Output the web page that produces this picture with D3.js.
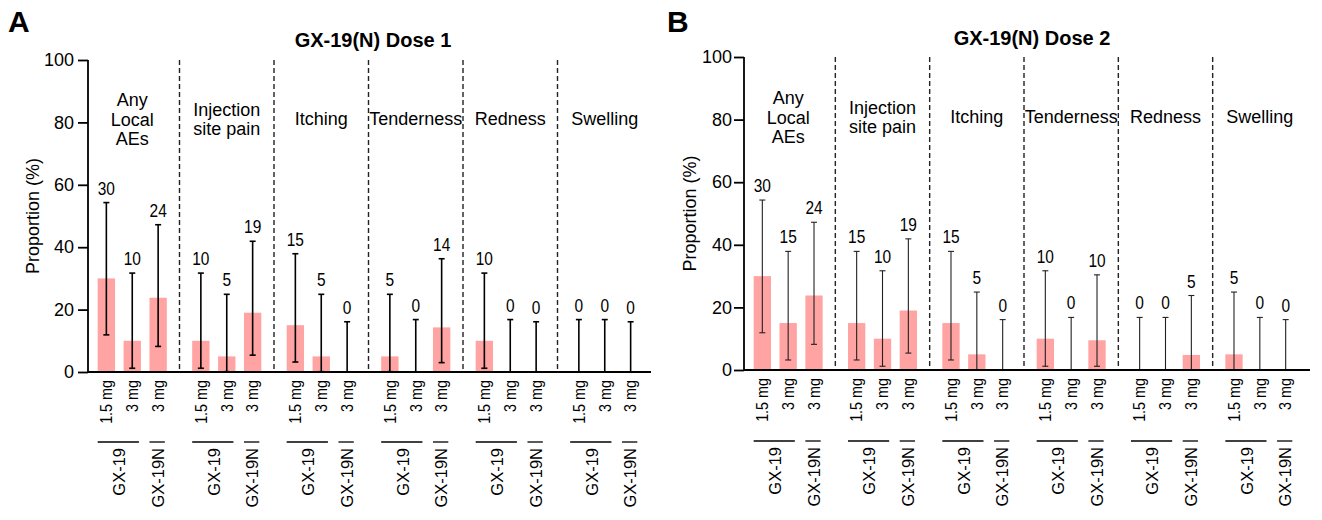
<!DOCTYPE html>
<html>
<head>
<meta charset="utf-8">
<script src="https://cdn.jsdelivr.net/npm/d3@7"></script>
<style>
  body { margin: 0; background: #fff; }
  text { font-family: "Liberation Sans", Arial, sans-serif; fill: #000; }
</style>
</head>
<body>
<svg id="canvas"></svg>
<script>
let width = 1322;
let height = 520;

// chart data
let categories = ['Any Local AEs', 'Injection site pain', 'Itching', 'Tenderness', 'Redness', 'Swelling'];
let categoryLines = [['Any', 'Local', 'AEs'], ['Injection', 'site pain'], ['Itching'], ['Tenderness'], ['Redness'], ['Swelling']];
let doseLabels = ['1.5 mg', '3 mg', '3 mg'];
let vaccineLabels = ['GX-19', 'GX-19N'];
let yTicks = [0, 20, 40, 60, 80, 100];

let dose1Values = [[30, 10, 23.8], [10, 5, 19], [15, 5, 0], [5, 0, 14.3], [10, 0, 0], [0, 0, 0]];
let dose1Low = [[11.9, 1.2, 8.2], [1.2, 0.1, 5.4], [3.2, 0.1, 0], [0.1, 0, 3.0], [1.2, 0, 0], [0, 0, 0]];
let dose1High = [[54.3, 31.7, 47.2], [31.7, 24.9, 41.9], [37.9, 24.9, 16.1], [24.9, 16.8, 36.3], [31.7, 16.8, 16.1], [16.8, 16.8, 16.1]];
let dose1Labels = [['30', '10', '24'], ['10', '5', '19'], ['15', '5', '0'], ['5', '0', '14'], ['10', '0', '0'], ['0', '0', '0']];

let dose2Values = [[30, 15, 23.8], [15, 10, 19], [15, 5, 0], [10, 0, 9.5], [0, 0, 4.8], [5, 0, 0]];
let dose2Low = [[11.9, 3.2, 8.2], [3.2, 1.2, 5.4], [3.2, 0.1, 0], [1.2, 0, 1.2], [0, 0, 0.1], [0.1, 0, 0]];
let dose2High = [[54.3, 37.9, 47.2], [37.9, 31.7, 41.9], [37.9, 24.9, 16.1], [31.7, 16.8, 30.4], [16.8, 16.8, 23.8], [24.9, 16.8, 16.1]];
let dose2Labels = [['30', '15', '24'], ['15', '10', '19'], ['15', '5', '0'], ['10', '0', '10'], ['0', '0', '5'], ['5', '0', '0']];

let svg = d3.select('#canvas')
    .attr('width', width)
    .attr('height', height);

/*one panel = one dose; layout numbers are per panel*/
let drawPanel = (p) => {
    let g = svg.append('g');

    let yScale = d3.scaleLinear().domain([0, 100]).range([p.yBot, p.yTop]);
    let xOuter = d3.scaleBand().domain(categories).range([p.x0, p.x1]).padding(0);
    let xInner = d3.scaleBand().domain([0, 1, 2]).range([0, xOuter.bandwidth()])
        .paddingInner(0.33).paddingOuter(0.49);
    let bw = xInner.bandwidth();
    let cx = (c, i) => xOuter(c) + xInner(i) + bw / 2;

    // flatten to one record per bar
    let bars = [];
    categories.forEach((c, ci) => {
        for (let i = 0; i < 3; i++) {
            bars.push({c: c, i: i, v: p.values[ci][i], lo: p.low[ci][i], hi: p.high[ci][i], lab: p.labels[ci][i]});
        }
    });

    // panel letter + title
    g.append('text').attr('x', p.letterX).attr('y', 32)
        .style('font-size', '30px').style('font-weight', 'bold').text(p.letter);
    g.append('text').attr('x', p.titleX).attr('y', p.titleY).attr('text-anchor', 'middle')
        .style('font-size', '20px').style('font-weight', 'bold').text(p.title);

    // dashed separators
    g.selectAll('.sep').data(categories.slice(1)).enter().append('line')
        .attr('x1', d => xOuter(d)).attr('x2', d => xOuter(d))
        .attr('y1', yScale(100)).attr('y2', yScale(0))
        .attr('stroke', '#222').attr('stroke-width', 1.4).attr('stroke-dasharray', '5,3');

    // bars
    g.selectAll('.bar').data(bars).enter().append('rect')
        .attr('x', d => cx(d.c, d.i) - bw / 2)
        .attr('width', bw)
        .attr('y', d => yScale(d.v))
        .attr('height', d => yScale(0) - yScale(d.v))
        .attr('fill', '#ffa3a3');

    // error bars
    let eb = g.selectAll('.err').data(bars).enter().append('g')
        .attr('stroke', p.errColor).attr('stroke-width', p.errWidth);
    eb.append('line')
        .attr('x1', d => cx(d.c, d.i)).attr('x2', d => cx(d.c, d.i))
        .attr('y1', d => yScale(d.lo)).attr('y2', d => yScale(d.hi));
    eb.append('line')
        .attr('x1', d => cx(d.c, d.i) - p.cap).attr('x2', d => cx(d.c, d.i) + p.cap)
        .attr('y1', d => yScale(d.hi)).attr('y2', d => yScale(d.hi));
    eb.append('line')
        .attr('x1', d => cx(d.c, d.i) - p.cap).attr('x2', d => cx(d.c, d.i) + p.cap)
        .attr('y1', d => yScale(d.lo)).attr('y2', d => yScale(d.lo));

    // value labels (slightly condensed like the original)
    g.selectAll('.val').data(bars).enter().append('text')
        .attr('transform', d => 'translate(' + cx(d.c, d.i) + ',' + (yScale(d.hi) - 8) + ') scale(0.86,1)')
        .attr('text-anchor', 'middle').style('font-size', '18px')
        .text(d => d.lab);

    // category labels
    categories.forEach((c, ci) => {
        let lines = categoryLines[ci];
        let first = p.catY - (lines.length - 1) * 19 / 2;
        let t = g.append('text').attr('text-anchor', 'middle').style('font-size', '18px');
        lines.forEach((l, li) => {
            t.append('tspan').attr('x', xOuter(c) + xOuter.bandwidth() / 2)
                .attr('y', first + li * 19.5).text(l);
        });
    });

    // y axis
    let yAxis = d3.axisLeft(yScale).tickValues(yTicks).tickSize(10).tickPadding(p.tickPad);
    let ya = g.append('g').attr('transform', 'translate(' + p.axisX + ',0)').call(yAxis);
    ya.select('.domain').attr('stroke', '#000').attr('stroke-width', 1.8)
        .attr('d', 'M0,' + yScale(100) + 'V' + yScale(0));
    ya.selectAll('.tick line').attr('stroke', '#000').attr('stroke-width', 1.8);
    ya.selectAll('.tick text').style('font-size', '18px').style('font-family', '"Liberation Sans", Arial, sans-serif').attr('fill', '#000');

    // x baseline
    g.append('line').attr('x1', p.axisX).attr('x2', p.axisEnd)
        .attr('y1', yScale(0)).attr('y2', yScale(0))
        .attr('stroke', '#000').attr('stroke-width', 1.8);

    // y title
    g.append('text')
        .attr('transform', 'translate(' + p.yLabX + ',' + ((yScale(0) + yScale(100)) / 2) + ') rotate(-90)')
        .attr('text-anchor', 'middle').style('font-size', '18px')
        .text('Proportion (%)');

    // dose labels under each bar
    g.selectAll('.dose').data(bars).enter().append('text')
        .attr('transform', d => 'translate(' + cx(d.c, d.i) + ',' + (yScale(0) + 8) + ') rotate(-90) scale(0.87,1)')
        .attr('text-anchor', 'end').attr('dy', '0.35em').style('font-size', '16.5px')
        .text(d => doseLabels[d.i]);

    // vaccine group labels with underline bracket
    categories.forEach((c) => {
        let groups = [
            {name: vaccineLabels[0], a: 0, b: 1},
            {name: vaccineLabels[1], a: 2, b: 2}
        ];
        groups.forEach(gr => {
            let left = cx(c, gr.a) - bw / 2;
            let right = cx(c, gr.b) + bw / 2 - 2;
            g.append('line').attr('x1', left).attr('x2', right)
                .attr('y1', p.bracketY).attr('y2', p.bracketY)
                .attr('stroke', '#000').attr('stroke-width', 1.3);
            g.append('text')
                .attr('transform', 'translate(' + ((cx(c, gr.a) + cx(c, gr.b)) / 2) + ',' + (p.bracketY + 6) + ') rotate(-90)')
                .attr('text-anchor', 'end').attr('dy', '0.35em').style('font-size', '16.5px')
                .text(gr.name);
        });
    });
};

drawPanel({
    letter: 'A', title: 'GX-19(N) Dose 1', letterX: 8, titleX: 373, titleY: 47,
    x0: 85, x1: 652, axisX: 88, axisEnd: 651, yTop: 60, yBot: 372,
    catY: 125, bracketY: 442, yLabX: 39, tickPad: 4,
    errColor: '#000', errWidth: 1.6, cap: 3,
    values: dose1Values, low: dose1Low, high: dose1High, labels: dose1Labels
});

drawPanel({
    letter: 'B', title: 'GX-19(N) Dose 2', letterX: 667, titleX: 1032, titleY: 45,
    x0: 741, x1: 1307, axisX: 744, axisEnd: 1310, yTop: 57, yBot: 370,
    catY: 123, bracketY: 441, yLabX: 696, tickPad: 2,
    errColor: '#222', errWidth: 1.1, cap: 3,
    values: dose2Values, low: dose2Low, high: dose2High, labels: dose2Labels
});
</script>
</body>
</html>
